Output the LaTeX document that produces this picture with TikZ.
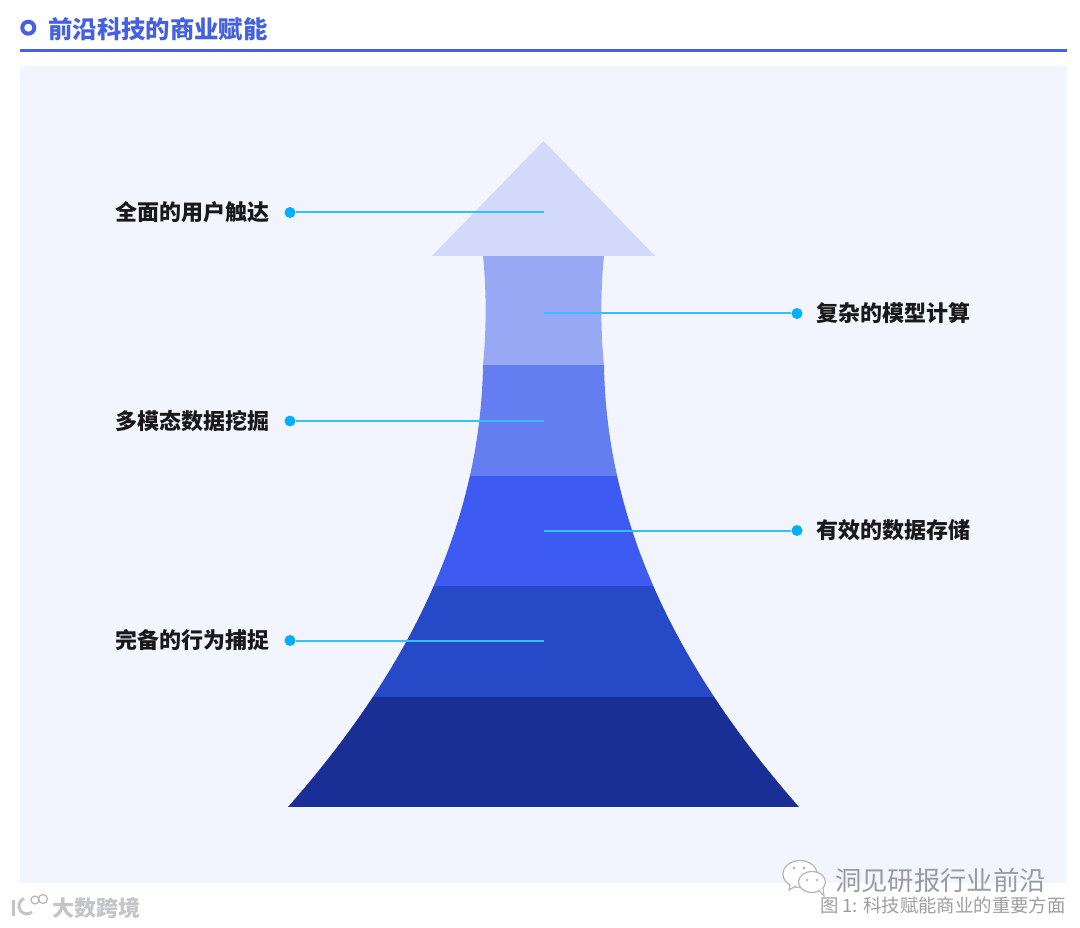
\documentclass[tikz,border=0pt]{standalone}
\usepackage{fontspec}
\setmainfont{Noto Sans CJK SC}
\usetikzlibrary{positioning}
\definecolor{titleblue}{HTML}{4560E0}
\definecolor{panelbg}{HTML}{F2F5FE}
\definecolor{headbg}{HTML}{D3D9F8}
\definecolor{bandA}{HTML}{99A8F5}
\definecolor{bandB}{HTML}{647EF2}
\definecolor{bandC}{HTML}{3D5BF0}
\definecolor{bandD}{HTML}{2649C8}
\definecolor{bandE}{HTML}{1A2F96}
\definecolor{leadcol}{HTML}{00B0FF}
\definecolor{markgray}{HTML}{B4B6BA}
\tikzset{
  itemlabel/.style={font=\fontsize{22}{22}\selectfont\bfseries,inner sep=0pt,text=black!90},
  leaddot/.style={circle,fill=leadcol,minimum size=11pt,inner sep=0pt},
  leadline/.style={draw=leadcol!80,line width=2pt},
  markline/.style={draw=markgray,line width=1.2pt},
}
\begin{document}
\begin{tikzpicture}[x=1pt,y=-1pt]
\useasboundingbox (0,0) rectangle (1080,928);
\fill[white] (0,0) rectangle (1080,928);
\fill[panelbg] (20,66) rectangle (1067,883);
% heading
\node[circle,draw=titleblue,line width=4pt,minimum size=12pt,inner sep=0pt] (bullet) at (28.3,27.7) {};
\node[anchor=west,inner sep=0pt,text=titleblue,font=\fontsize{24.4}{24}\selectfont\bfseries] (title) at (48,29) {前沿科技的商业赋能};
\draw[titleblue,line width=2.5pt] (20,50.5) -- (1067,50.5);
% arrow
\fill[headbg] (543.5,141) -- (655,256) -- (432,256) -- cycle;
\begin{scope}
\clip (483,256) -- (604,256)
  .. controls (600.5,290) and (600.5,330) .. (604,365)
  .. controls (607,560) and (714,710) .. (799,807)
  -- (288,807)
  .. controls (373,710) and (480,560) .. (483,365)
  .. controls (486.5,330) and (486.5,290) .. (483,256) -- cycle;
\foreach \ytop/\ybot/\bandcol in {256/365/bandA,365/476/bandB,476/586/bandC,586/697/bandD,697/807/bandE}
  \fill[\bandcol] (280,\ytop) rectangle (810,\ybot);
\end{scope}
% left items
\foreach \name/\ypos/\txt in {touch/212.5/全面的用户触达,mining/421/多模态数据挖掘,capture/640.5/完备的行为捕捉}{
  \node[leaddot] (\name dot) at (290,\ypos) {};
  \coordinate (\name end) at (543.5,\ypos);
  \node[itemlabel,left=20pt of \name dot.center] (\name) {\txt};
  \draw[leadline] (\name dot) -- (\name end);
}
% right items
\foreach \name/\ypos/\txt in {model/313.5/复杂的模型计算,storage/530.5/有效的数据存储}{
  \node[leaddot] (\name dot) at (797,\ypos) {};
  \coordinate (\name end) at (543.5,\ypos);
  \node[itemlabel,right=19pt of \name dot.center] (\name) {\txt};
  \draw[leadline] (\name dot) -- (\name end);
}
% wechat logo
\draw[markline,fill=white] (800,874) ellipse (17 and 13.5);
\draw[markline,fill=white] (790,884) -- (789,890) -- (796,886);
\draw[markline,fill=white] (812,882) ellipse (13.5 and 10.5);
\draw[markline,fill=white] (819,890) -- (824,896) -- (823,888);
\fill[markgray] (794,868) circle (1.6) (804,868) circle (1.6) (807,880) circle (1.4) (817,880) circle (1.4);
% caption and marks
\node[anchor=east,inner sep=0pt,text=black!38,font=\fontsize{18.4}{18}\selectfont] (caption) at (1066,905) {图 1: 科技赋能商业的重要方面};
\node[anchor=west,inner sep=0pt,text=markgray!85!black,font=\fontsize{26.3}{26}\selectfont] (source) at (835,880) {洞见研报行业前沿};
\node[anchor=west,inner sep=0pt,text=markgray!80,font=\fontsize{22}{22}\selectfont\bfseries] (brand) at (52,908) {大数跨境};
% brand logo
\draw[markgray!80,line width=3pt] (13,900) -- (13,916);
\draw[markgray!80,line width=3pt] (32,912) arc (50:250:8);
\draw[markline] (35,900) circle (4);
\draw[markline] (43,899) circle (4.5);
\end{tikzpicture}
\end{document}
